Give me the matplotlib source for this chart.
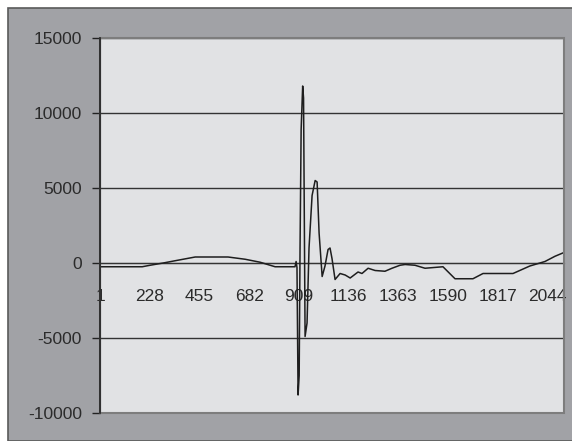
import matplotlib
matplotlib.use("Agg")
import matplotlib.pyplot as plt
from matplotlib.patches import Rectangle

# waveform: (sample index, amplitude)
sample_idx = [1, 193, 229, 289, 343, 435, 585, 663, 732, 800, 891, 896, 900, 905,
              910, 914, 919, 926, 930, 937, 946, 955, 969, 983, 992, 1001, 1015,
              1028, 1042, 1051, 1060, 1074, 1097, 1120, 1143, 1179, 1197, 1225,
              1257, 1302, 1334, 1371, 1394, 1439, 1485, 1567, 1622, 1704, 1750,
              1887, 1964, 2033, 2079, 2120]
amplitude = [-250, -250, -150, 0, 150, 400, 400, 250, 50, -250, -250, 100, -300, -8800,
             -7500, 1000, 8900, 11800, 11000, -4900, -4000, 1000, 4500, 5500, 5400, 2000, -900,
             -200, 900, 1000, 300, -1100, -700, -800, -1000, -600, -700, -350,
             -500, -550, -350, -150, -100, -150, -350, -250, -1050, -1050, -700,
             -700, -200, 100, 450, 700]

x_ticks = [1, 228, 455, 682, 909, 1136, 1363, 1590, 1817, 2044]
y_ticks = [-10000, -5000, 0, 5000, 10000, 15000]

plt.rcParams['font.family'] = ['Liberation Sans', 'DejaVu Sans']
txt = '#2b2b2b'

fig = plt.figure(figsize=(5.72, 4.41), dpi=100, facecolor='white')
# gray chart area with dark top/left edge
fig.patches.append(Rectangle((8 / 572, 0), 1, 1 - 8 / 441, transform=fig.transFigure,
                             facecolor='#a1a2a6', edgecolor='#5a5a5a', linewidth=1.2, zorder=0))

ax = fig.add_axes([100 / 572, 28 / 441, 464 / 572, 375 / 441])
ax.set_zorder(2)
ax.set_facecolor('#e1e2e4')

ax.plot(sample_idx, amplitude, color='#1e1e1e', linewidth=1.1, zorder=3)

ax.set_xlim(0, 2120)
ax.set_ylim(-10000, 15000)
ax.set_yticks(y_ticks)
ax.set_yticklabels([str(v) for v in y_ticks])
ax.tick_params(axis='y', direction='out', length=6, width=1, colors='#222222',
               labelcolor=txt, labelsize=12.5, pad=7)
ax.yaxis.grid(True, color='#333333', linewidth=1)
ax.set_axisbelow(True)

ax.spines['bottom'].set_position(('data', 0))
ax.spines['bottom'].set_color('#333333')
ax.set_xticks(x_ticks)
ax.set_xticklabels([str(v) for v in x_ticks])
ax.tick_params(axis='x', length=0, labelcolor=txt, labelsize=12.5, pad=19)

ax.spines['left'].set_color('#222222')
ax.spines['top'].set_visible(False)
ax.spines['right'].set_visible(False)
ax.add_patch(Rectangle((0, 0), 1, 1, transform=ax.transAxes, fill=False,
                       edgecolor='#7d7d7d', linewidth=1.5, clip_on=False, zorder=4))
ax.plot([0, 0], [0, 1], transform=ax.transAxes, color='#222222', linewidth=1.2,
        clip_on=False, zorder=5)

fig.savefig('out.png', dpi=100, facecolor=fig.get_facecolor())
